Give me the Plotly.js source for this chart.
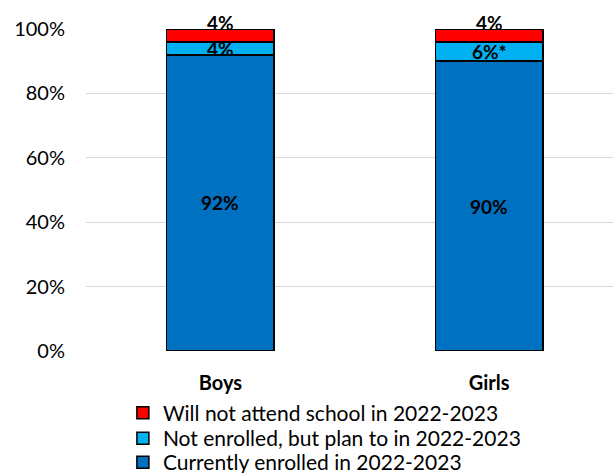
<!DOCTYPE html>
<html>
<head>
<meta charset="utf-8">
<script src="https://cdn.plot.ly/plotly-3.0.1.min.js"></script>
<style>html,body{margin:0;padding:0;background:#fff;}#chart{width:613px;height:473px;}</style>
</head>
<body>
<div id="chart"></div>
<script>
var categories = ["Boys", "Girls"];
var enrolled = [92, 90];
var planTo = [4, 6];
var willNot = [4, 4];
var enrolledLabels = ["92%", "90%"];
var planToLabels = ["4%", "6%*"];
var willNotLabels = ["4%", "4%"];
var seriesNames = ["Currently enrolled in 2022-2023", "Not enrolled, but plan to in 2022-2023", "Will not attend school in 2022-2023"];
var tickVals = [0, 20, 40, 60, 80, 100];
var tickText = ["0%", "20%", "40%", "60%", "80%", "100%"];

var FONT = "Lato, 'Open Sans', sans-serif";
var line = {color: "#000000", width: 1.5};

var traces = [
  {type: "bar", name: seriesNames[0], legend: "legend3", x: categories, y: enrolled, marker: {color: "#0070C0", line: line}, width: 0.4, hoverinfo: "none"},
  {type: "bar", name: seriesNames[1], legend: "legend2", x: categories, y: planTo, marker: {color: "#00B0F0", line: line}, width: 0.4, hoverinfo: "none"},
  {type: "bar", name: seriesNames[2], legend: "legend", x: categories, y: willNot, marker: {color: "#FF0000", line: line}, width: 0.4, hoverinfo: "none"}
];

var annotations = [];
var lblFont = {family: FONT, size: 19, color: "#000"};
categories.forEach(function (c, i) {
  var b1 = enrolled[i], b2 = b1 + planTo[i], b3 = b2 + willNot[i];
  annotations.push({x: c, y: b1 / 2, text: "<b>" + enrolledLabels[i] + "</b>", showarrow: false, yanchor: "middle", font: lblFont});
  annotations.push({x: c, y: (b1 + b2) / 2, text: "<b>" + planToLabels[i] + "</b>", showarrow: false, yanchor: "middle", font: lblFont});
  annotations.push({x: c, y: b3, yshift: 7, text: "<b>" + willNotLabels[i] + "</b>", showarrow: false, yanchor: "middle", font: lblFont});
});

function legendAt(yc) {
  return {xref: "paper", yref: "container", x: 0.07, xanchor: "left", y: yc, yanchor: "middle",
          orientation: "v", font: {family: FONT, size: 21, color: "#000"},
          bgcolor: "rgba(0,0,0,0)", borderwidth: 0, itemclick: false, itemdoubleclick: false};
}

var layout = {
  width: 613, height: 473,
  margin: {l: 86, r: 0, t: 29, b: 122, pad: 0},
  barmode: "stack",
  paper_bgcolor: "#fff", plot_bgcolor: "#fff",
  font: {family: FONT, color: "#000", size: 19},
  showlegend: true,
  legend: legendAt(1 - 413 / 473),
  legend2: legendAt(1 - 438.5 / 473),
  legend3: legendAt(1 - 462.5 / 473),
  xaxis: {type: "category", range: [-0.5, 1.461], showgrid: false, zeroline: false, showline: false,
          ticks: "", ticklabelstandoff: 18, tickfont: {family: FONT, size: 20, color: "#000", weight: "bold"},
          fixedrange: true},
  yaxis: {range: [0, 100], tickvals: tickVals, ticktext: tickText, showgrid: true, gridcolor: "#D9D9D9", gridwidth: 1,
          zeroline: false, showline: false, ticks: "", ticklabelstandoff: 20,
          tickfont: {family: FONT, size: 20, color: "#000"}, fixedrange: true},
  annotations: annotations
};

Plotly.newPlot("chart", traces, layout, {displayModeBar: false, staticPlot: true});
</script>
</body>
</html>
